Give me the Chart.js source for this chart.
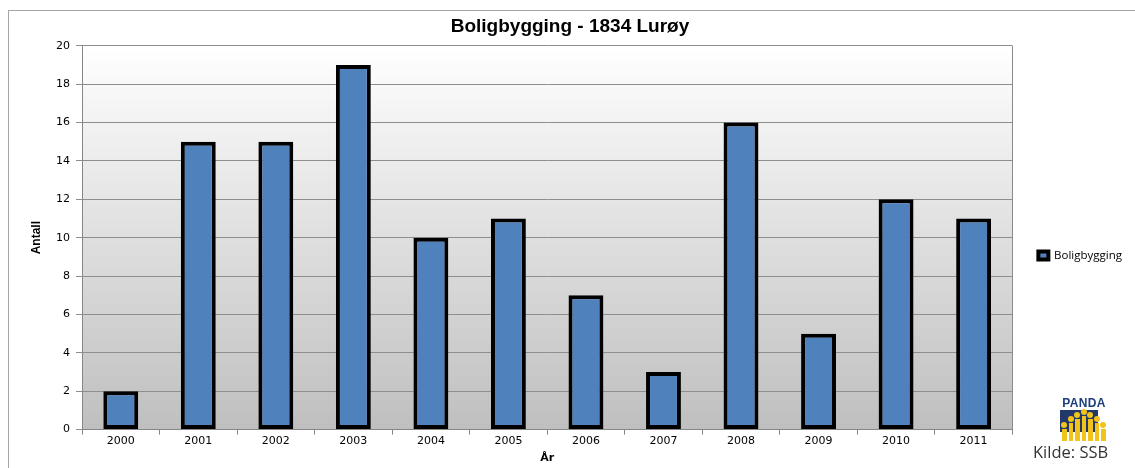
<!DOCTYPE html>
<html>
<head>
<meta charset="utf-8">
<script src="https://cdn.jsdelivr.net/npm/chart.js@4"></script>
<style>
body { margin: 0; background: #fff; }
#wrap { position: relative; width: 1135px; height: 468px; overflow: hidden; }
#frame { position: absolute; left: 8px; top: 10px; width: 1140px; height: 470px;
  border-top: 1px solid #a6a6a6; border-left: 1px solid #a6a6a6; }
canvas { position: absolute; left: 0; top: 0; }
#logo { position: absolute; left: 1059px; top: 397px; width: 50px; }
#logo .name { font: bold 12px 'Liberation Sans', Arial, sans-serif; color: #1d3f7c; text-align: center; letter-spacing: 0.3px; line-height: 12px; }
#logo .pic { position: relative; height: 31px; margin-top: 1px; }
#logo .bg { position: absolute; left: 1px; top: 0; width: 38px; height: 22px; background: #22386b; }
#logo .fig { position: absolute; bottom: 0; width: 4.5px; background: #f2c319; }
#logo .head { position: absolute; width: 6px; height: 6px; border-radius: 50%; background: #f2c319; }
#source { position: absolute; left: 1033px; top: 440px; font: 16.5px 'Open Sans', sans-serif; color: #333; }
</style>
</head>
<body>
<div id="wrap">
  <div id="frame"></div>
  <canvas id="chart" width="1135" height="468"></canvas>
  <div id="logo">
    <div class="name">PANDA</div>
    <div class="pic" id="pic"><div class="bg"></div></div>
  </div>
  <div id="source">Kilde: SSB</div>
</div>
<script>
const years = ['2000', '2001', '2002', '2003', '2004', '2005', '2006', '2007', '2008', '2009', '2010', '2011'];
const boligbygging = [2, 15, 15, 19, 10, 11, 7, 3, 16, 5, 12, 11];
const yMin = 0;
const yMax = 20;
const yStep = 2;

// little PANDA logo figures
const figHeights = [12, 18, 22, 25, 22, 18, 12];
const pic = document.getElementById('pic');
figHeights.forEach((h, i) => {
    const x = 3 + i * 6.5;
    const f = document.createElement('div');
    f.className = 'fig';
    f.style.left = x + 'px';
    f.style.height = h + 'px';
    pic.appendChild(f);
    const hd = document.createElement('div');
    hd.className = 'head';
    hd.style.left = (x - 1) + 'px';
    hd.style.bottom = (h + 1) + 'px';
    pic.appendChild(hd);
});

// gradient plot background + right border of the plot area
const plotBackground = {
    id: 'plotBackground',
    beforeDraw(chart) {
        const { ctx, chartArea: a } = chart;
        const g = ctx.createLinearGradient(0, a.top, 0, a.bottom);
        g.addColorStop(0, '#ffffff');
        g.addColorStop(1, '#bfbfbf');
        ctx.save();
        ctx.fillStyle = g;
        ctx.fillRect(a.left, a.top, a.right - a.left, a.bottom - a.top);
        ctx.restore();
    },
    beforeDatasetsDraw(chart) {
        const { ctx, chartArea: a } = chart;
        ctx.save();
        ctx.strokeStyle = '#8a8a8a';
        ctx.lineWidth = 1;
        ctx.beginPath();
        ctx.moveTo(Math.round(a.right) + 0.5, a.top);
        ctx.lineTo(Math.round(a.right) + 0.5, a.bottom);
        ctx.stroke();
        ctx.restore();
    }
};

const ctx = document.getElementById('chart').getContext('2d');
const chart = new Chart(ctx, {
    type: 'bar',
    data: {
        labels: years,
        datasets: [{
            label: 'Boligbygging',
            data: boligbygging,
            backgroundColor: '#4f81bd',
            borderColor: '#000000',
            borderWidth: 4,
            borderSkipped: false,
            barPercentage: 0.45,
            categoryPercentage: 1.0
        }]
    },
    options: {
        responsive: false,
        animation: false,
        layout: { padding: { left: 8, right: 3, top: 0, bottom: 3 } },
        plugins: {
            title: {
                display: true,
                text: 'Boligbygging - 1834 Lurøy',
                color: '#000',
                font: { family: "'Liberation Sans', Arial, sans-serif", size: 19, weight: 'bold' },
                padding: { top: 15, bottom: 8 }
            },
            legend: {
                position: 'right',
                title: { display: true, text: ' ', padding: 17, font: { size: 10 } },
                labels: {
                    boxWidth: 10,
                    boxHeight: 8,
                    padding: 26,
                    color: '#000',
                    font: { family: "'Open Sans', sans-serif", size: 11.5 }
                }
            },
            tooltip: { enabled: false }
        },
        scales: {
            x: {
                grid: { drawOnChartArea: false, drawTicks: true, tickLength: 5, color: '#868686' },
                border: { color: '#868686' },
                ticks: { color: '#000', padding: 0, font: { family: "Verdana, 'DejaVu Sans', sans-serif", size: 11 } },
                title: {
                    display: true, text: 'År', color: '#000',
                    font: { family: "Verdana, 'DejaVu Sans', sans-serif", size: 11, weight: 'bold' },
                    padding: { top: 4, bottom: 0 }
                }
            },
            y: {
                min: yMin,
                max: yMax,
                afterFit(scale) { scale.width = 74; },
                grid: { color: '#8e8e8e', tickLength: 6 },
                border: { color: '#868686' },
                ticks: { stepSize: yStep, color: '#000', padding: 6, font: { family: "Verdana, 'DejaVu Sans', sans-serif", size: 11 } },
                title: {
                    display: true, text: 'Antall', color: '#000',
                    font: { family: "'Liberation Sans Narrow', 'Liberation Sans', sans-serif", size: 12, weight: 'bold' },
                    padding: { top: 21, bottom: 0 }
                }
            }
        }
    },
    plugins: [plotBackground]
});
</script>
</body>
</html>
